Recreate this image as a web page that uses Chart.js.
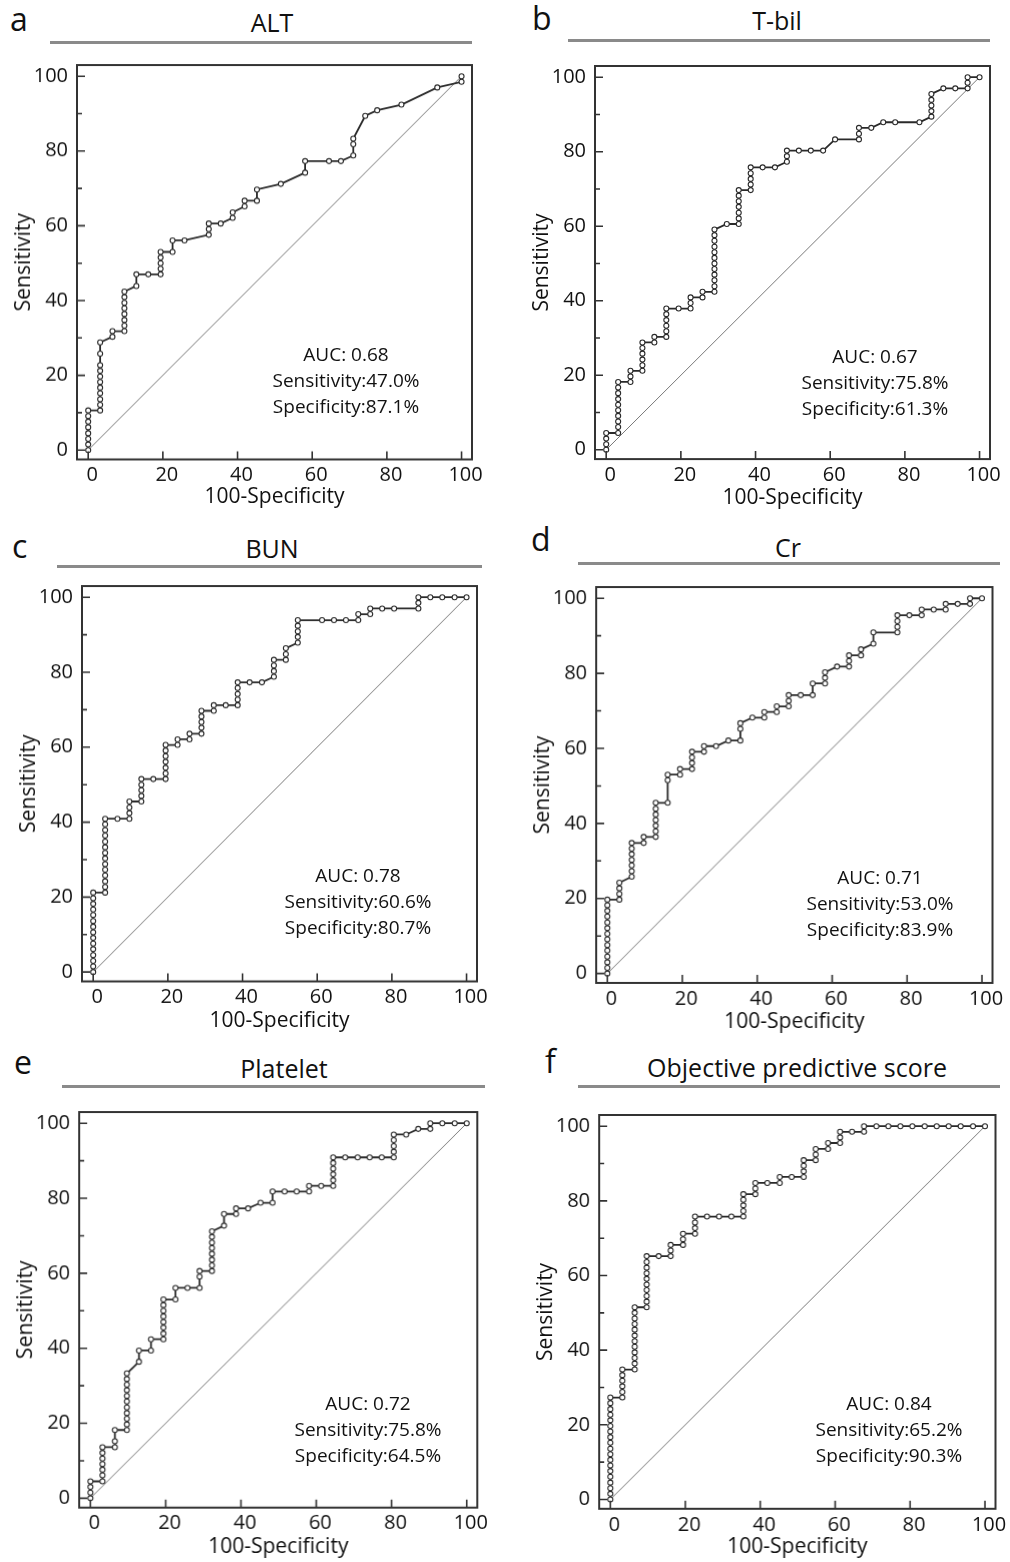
<!DOCTYPE html>
<html>
<head>
<meta charset="utf-8">
<script src="https://cdn.jsdelivr.net/npm/chart.js@4.4.0/dist/chart.umd.min.js"></script>
<style>
  body { margin: 0; background: #fff; font-family: "Open Sans", sans-serif; color: #111; }
  #page { position: relative; width: 1010px; height: 1562px; overflow: hidden; }
  .letter { position: absolute; font-size: 32px; line-height: 32px; transform: translateY(-50%); }
  .title { position: absolute; font-size: 25px; line-height: 28px; transform: translate(-50%, -50%); white-space: nowrap; }
  .rule { position: absolute; height: 3px; background: #8a8a8a; }
  .wrap { position: absolute; }
  .auc { position: absolute; font-size: 19px; line-height: 26px; text-align: center; transform: translate(-50%, -50%); white-space: nowrap; }
</style>
</head>
<body>
<div id="page">
  <div class="letter" style="left:10px;top:19px">a</div>
  <div class="title" style="left:272px;top:22px">ALT</div>
  <div class="rule" style="left:50px;top:41px;width:422px"></div>
  <div class="wrap"><canvas id="chart-a"></canvas></div>
  <div class="auc" style="left:346px;top:380px">AUC: 0.68<br>Sensitivity:47.0%<br>Specificity:87.1%</div>

  <div class="letter" style="left:532px;top:18px">b</div>
  <div class="title" style="left:777px;top:20px">T-bil</div>
  <div class="rule" style="left:568px;top:39px;width:422px"></div>
  <div class="wrap"><canvas id="chart-b"></canvas></div>
  <div class="auc" style="left:875px;top:382px">AUC: 0.67<br>Sensitivity:75.8%<br>Specificity:61.3%</div>

  <div class="letter" style="left:12px;top:546px">c</div>
  <div class="title" style="left:272px;top:548px">BUN</div>
  <div class="rule" style="left:57px;top:565px;width:425px"></div>
  <div class="wrap"><canvas id="chart-c"></canvas></div>
  <div class="auc" style="left:358px;top:901px">AUC: 0.78<br>Sensitivity:60.6%<br>Specificity:80.7%</div>

  <div class="letter" style="left:531px;top:539px">d</div>
  <div class="title" style="left:788px;top:547px">Cr</div>
  <div class="rule" style="left:578px;top:562px;width:422px"></div>
  <div class="wrap"><canvas id="chart-d"></canvas></div>
  <div class="auc" style="left:880px;top:903px">AUC: 0.71<br>Sensitivity:53.0%<br>Specificity:83.9%</div>

  <div class="letter" style="left:14px;top:1062px">e</div>
  <div class="title" style="left:284px;top:1068px">Platelet</div>
  <div class="rule" style="left:62px;top:1085px;width:423px"></div>
  <div class="wrap"><canvas id="chart-e"></canvas></div>
  <div class="auc" style="left:368px;top:1429px">AUC: 0.72<br>Sensitivity:75.8%<br>Specificity:64.5%</div>

  <div class="letter" style="left:545px;top:1061px">f</div>
  <div class="title" style="left:797px;top:1067px">Objective predictive score</div>
  <div class="rule" style="left:578px;top:1085px;width:422px"></div>
  <div class="wrap"><canvas id="chart-f"></canvas></div>
  <div class="auc" style="left:889px;top:1429px">AUC: 0.84<br>Sensitivity:65.2%<br>Specificity:90.3%</div>
</div>

<script>
  // axis ticks
  const xTicks = [0, 20, 40, 60, 80, 100];
  const yTicks = [0, 20, 40, 60, 80, 100];
  const yMinorTicks = [10, 30, 50, 70, 90];
  const diagonal = [0, 100];

  // a: ALT  (100-Specificity, Sensitivity)
  const altX = [0, 0, 0, 0, 0, 0, 0, 0,
    3.2, 3.2, 3.2, 3.2, 3.2, 3.2, 3.2, 3.2, 3.2, 3.2, 3.2,
    6.5, 6.5,
    9.7, 9.7, 9.7, 9.7, 9.7, 9.7, 9.7, 9.7,
    12.9, 12.9, 16.1,
    19.4, 19.4, 19.4, 19.4, 19.4,
    22.6, 22.6, 25.8,
    32.3, 32.3, 32.3, 35.5,
    38.7, 38.7, 41.9, 41.9, 45.2, 45.2, 51.6,
    58.1, 58.1, 64.5, 67.7,
    71.0, 71.0, 71.0, 74.2, 77.4, 83.9, 93.5, 100, 100];
  const altY = [0, 1.5, 3.0, 4.5, 6.1, 7.6, 9.1, 10.6,
    10.6, 12.1, 13.6, 15.2, 16.7, 18.2, 19.7, 21.2, 22.7, 25.8, 28.8,
    30.3, 31.8,
    31.8, 33.3, 34.8, 36.4, 37.9, 39.4, 40.9, 42.4,
    43.9, 47.0, 47.0,
    47.0, 48.5, 50.0, 51.5, 53.0,
    53.0, 56.1, 56.1,
    57.6, 59.1, 60.6, 60.6,
    62.1, 63.6, 65.2, 66.7, 66.7, 69.7, 71.2,
    74.2, 77.3, 77.3, 77.3,
    78.8, 81.8, 83.3, 89.4, 90.9, 92.4, 97.0, 98.5, 100];

  // b: T-bil
  const tbilX = [0, 0, 0, 0,
    3.2, 3.2, 3.2, 3.2, 3.2, 3.2, 3.2, 3.2, 3.2, 3.2,
    6.5, 6.5, 6.5,
    9.7, 9.7, 9.7, 9.7, 9.7, 9.7,
    12.9, 12.9,
    16.1, 16.1, 16.1, 16.1, 16.1, 16.1,
    19.4, 22.6, 22.6, 22.6, 25.8, 25.8,
    29.0, 29.0, 29.0, 29.0, 29.0, 29.0, 29.0, 29.0, 29.0, 29.0, 29.0, 29.0,
    32.3,
    35.5, 35.5, 35.5, 35.5, 35.5, 35.5, 35.5,
    38.7, 38.7, 38.7, 38.7, 38.7,
    41.9, 45.2, 48.4, 48.4, 48.4,
    51.6, 54.8, 58.1, 61.3,
    67.7, 67.7, 67.7, 71.0, 74.2, 77.4, 83.9,
    87.1, 87.1, 87.1, 87.1, 87.1,
    90.3, 93.5, 96.8, 96.8, 96.8, 100];
  const tbilY = [0, 1.5, 3.0, 4.5,
    4.5, 6.1, 7.6, 9.1, 10.6, 12.1, 13.6, 15.2, 16.7, 18.2,
    18.2, 19.7, 21.2,
    21.2, 22.7, 24.2, 25.8, 27.3, 28.8,
    28.8, 30.3,
    30.3, 31.8, 33.3, 34.8, 36.4, 37.9,
    37.9, 37.9, 39.4, 40.9, 40.9, 42.4,
    42.4, 43.9, 45.5, 47.0, 48.5, 50.0, 51.5, 53.0, 54.5, 56.1, 57.6, 59.1,
    60.6,
    60.6, 62.1, 63.6, 65.2, 66.7, 68.2, 69.7,
    69.7, 71.2, 72.7, 74.2, 75.8,
    75.8, 75.8, 77.3, 78.8, 80.3,
    80.3, 80.3, 80.3, 83.3,
    83.3, 84.8, 86.4, 86.4, 87.9, 87.9, 87.9,
    89.4, 90.9, 92.4, 93.9, 95.5,
    97.0, 97.0, 97.0, 98.5, 100, 100];

  // c: BUN
  const bunX = [0, 0, 0, 0, 0, 0, 0, 0, 0, 0, 0, 0, 0, 0, 0,
    3.2, 3.2, 3.2, 3.2, 3.2, 3.2, 3.2, 3.2, 3.2, 3.2, 3.2, 3.2, 3.2, 3.2,
    6.5, 9.7, 9.7, 9.7, 9.7,
    12.9, 12.9, 12.9, 12.9, 12.9, 16.1,
    19.4, 19.4, 19.4, 19.4, 19.4, 19.4, 19.4,
    22.6, 22.6, 25.8, 25.8,
    29.0, 29.0, 29.0, 29.0, 29.0,
    32.3, 32.3, 35.5,
    38.7, 38.7, 38.7, 38.7, 38.7,
    41.9, 45.2, 48.4, 48.4, 48.4, 48.4,
    51.6, 51.6, 51.6,
    54.8, 54.8, 54.8, 54.8, 54.8,
    61.3, 64.5, 67.7, 71.0, 71.0, 74.2, 74.2, 77.4, 80.6,
    87.1, 87.1, 87.1, 90.3, 93.5, 96.8, 100];
  const bunY = [0, 1.5, 3.0, 4.5, 6.1, 7.6, 9.1, 10.6, 12.1, 13.6, 15.2, 16.7, 18.2, 19.7, 21.2,
    21.2, 22.7, 24.2, 25.8, 27.3, 28.8, 30.3, 31.8, 33.3, 34.8, 36.4, 37.9, 39.4, 40.9,
    40.9, 40.9, 42.4, 43.9, 45.5,
    45.5, 47.0, 48.5, 50.0, 51.5, 51.5,
    51.5, 53.0, 54.5, 56.1, 57.6, 59.1, 60.6,
    60.6, 62.1, 62.1, 63.6,
    63.6, 65.2, 66.7, 68.2, 69.7,
    69.7, 71.2, 71.2,
    71.2, 72.7, 74.2, 75.8, 77.3,
    77.3, 77.3, 78.8, 80.3, 81.8, 83.3,
    83.3, 84.8, 86.4,
    87.9, 89.4, 90.9, 92.4, 93.9,
    93.9, 93.9, 93.9, 93.9, 95.5, 95.5, 97.0, 97.0, 97.0,
    97.0, 98.5, 100, 100, 100, 100, 100];

  // d: Cr
  const crX = [0, 0, 0, 0, 0, 0, 0, 0, 0, 0, 0, 0, 0, 0,
    3.2, 3.2, 3.2, 3.2,
    6.5, 6.5, 6.5, 6.5, 6.5, 6.5, 6.5,
    9.7, 9.7,
    12.9, 12.9, 12.9, 12.9, 12.9, 12.9, 12.9,
    16.1, 16.1, 16.1, 19.4, 19.4,
    22.6, 22.6, 22.6, 22.6, 25.8, 25.8,
    29.0, 32.3, 35.5, 35.5, 35.5, 38.7,
    41.9, 41.9, 45.2, 45.2, 48.4, 48.4, 48.4,
    51.6, 54.8, 54.8, 58.1, 58.1, 58.1, 61.3,
    64.5, 64.5, 64.5, 67.7, 67.7, 71.0, 71.0,
    77.4, 77.4, 77.4, 77.4, 80.6, 83.9, 83.9,
    87.1, 90.3, 90.3, 93.5, 96.8, 96.8, 100];
  const crY = [0, 1.5, 3.0, 4.5, 6.1, 7.6, 9.1, 10.6, 12.1, 13.6, 15.2, 16.7, 18.2, 19.7,
    19.7, 21.2, 22.7, 24.2,
    25.8, 27.3, 28.8, 30.3, 31.8, 33.3, 34.8,
    34.8, 36.4,
    36.4, 37.9, 39.4, 40.9, 42.4, 43.9, 45.5,
    45.5, 51.5, 53.0, 53.0, 54.5,
    54.5, 56.1, 57.6, 59.1, 59.1, 60.6,
    60.6, 62.1, 62.1, 65.2, 66.7, 68.2,
    68.2, 69.7, 69.7, 71.2, 71.2, 72.7, 74.2,
    74.2, 74.2, 77.3, 77.3, 78.8, 80.3, 81.8,
    81.8, 83.3, 84.8, 84.8, 86.4, 87.9, 90.9,
    90.9, 92.4, 93.9, 95.5, 95.5, 95.5, 97.0,
    97.0, 97.0, 98.5, 98.5, 98.5, 100, 100];

  // e: Platelet
  const pltX = [0, 0, 0, 0,
    3.2, 3.2, 3.2, 3.2, 3.2, 3.2, 3.2,
    6.5, 6.5, 6.5,
    9.7, 9.7, 9.7, 9.7, 9.7, 9.7, 9.7, 9.7, 9.7, 9.7, 9.7,
    12.9, 12.9, 16.1, 16.1,
    19.4, 19.4, 19.4, 19.4, 19.4, 19.4, 19.4, 19.4,
    22.6, 22.6, 25.8, 29.0, 29.0, 29.0,
    32.3, 32.3, 32.3, 32.3, 32.3, 32.3, 32.3, 32.3,
    35.5, 35.5, 38.7, 38.7, 41.9, 45.2, 48.4, 48.4,
    51.6, 54.8, 58.1, 58.1, 61.3,
    64.5, 64.5, 64.5, 64.5, 64.5, 64.5,
    67.7, 71.0, 74.2, 77.4,
    80.6, 80.6, 80.6, 80.6, 80.6,
    83.9, 87.1, 90.3, 90.3, 93.5, 96.8, 100];
  const pltY = [0, 1.5, 3.0, 4.5,
    4.5, 6.1, 7.6, 9.1, 10.6, 12.1, 13.6,
    13.6, 15.2, 18.2,
    18.2, 19.7, 21.2, 22.7, 24.2, 25.8, 27.3, 28.8, 30.3, 31.8, 33.3,
    36.4, 39.4, 39.4, 42.4,
    42.4, 43.9, 45.5, 47.0, 48.5, 50.0, 51.5, 53.0,
    53.0, 56.1, 56.1, 56.1, 59.1, 60.6,
    60.6, 62.1, 63.6, 65.2, 66.7, 68.2, 69.7, 71.2,
    72.7, 75.8, 75.8, 77.3, 77.3, 78.8, 78.8, 81.8,
    81.8, 81.8, 81.8, 83.3, 83.3,
    83.3, 84.8, 86.4, 87.9, 89.4, 90.9,
    90.9, 90.9, 90.9, 90.9,
    90.9, 92.4, 93.9, 95.5, 97.0,
    97.0, 98.5, 98.5, 100, 100, 100, 100];

  // f: Objective predictive score
  const opsX = [0, 0, 0, 0, 0, 0, 0, 0, 0, 0, 0, 0, 0, 0, 0, 0, 0, 0, 0,
    3.2, 3.2, 3.2, 3.2, 3.2, 3.2,
    6.5, 6.5, 6.5, 6.5, 6.5, 6.5, 6.5, 6.5, 6.5, 6.5, 6.5, 6.5,
    9.7, 9.7, 9.7, 9.7, 9.7, 9.7, 9.7, 9.7, 9.7, 9.7,
    12.9, 16.1, 16.1, 16.1, 19.4, 19.4, 19.4,
    22.6, 22.6, 22.6, 22.6, 25.8, 29.0, 32.3,
    35.5, 35.5, 35.5, 35.5, 35.5,
    38.7, 38.7, 38.7, 41.9, 45.2, 45.2, 48.4,
    51.6, 51.6, 51.6, 51.6, 54.8, 54.8, 54.8, 58.1, 58.1,
    61.3, 61.3, 61.3, 64.5, 67.7, 67.7,
    71.0, 74.2, 77.4, 80.6, 83.9, 87.1, 90.3, 93.5, 96.8, 100];
  const opsY = [0, 1.5, 3.0, 4.5, 6.1, 7.6, 9.1, 10.6, 12.1, 13.6, 15.2, 16.7, 18.2, 19.7, 21.2, 22.7, 24.2, 25.8, 27.3,
    27.3, 28.8, 30.3, 31.8, 33.3, 34.8,
    34.8, 36.4, 37.9, 39.4, 40.9, 42.4, 43.9, 45.5, 47.0, 48.5, 50.0, 51.5,
    51.5, 53.0, 54.5, 56.1, 57.6, 59.1, 60.6, 62.1, 63.6, 65.2,
    65.2, 65.2, 66.7, 68.2, 68.2, 69.7, 71.2,
    71.2, 72.7, 74.2, 75.8, 75.8, 75.8, 75.8,
    75.8, 77.3, 78.8, 80.3, 81.8,
    81.8, 83.3, 84.8, 84.8, 84.8, 86.4, 86.4,
    86.4, 87.9, 89.4, 90.9, 90.9, 92.4, 93.9, 93.9, 95.5,
    95.5, 97.0, 98.5, 98.5, 98.5, 100,
    100, 100, 100, 100, 100, 100, 100, 100, 100, 100];

  Chart.defaults.font.family = '"Open Sans", sans-serif';
  Chart.defaults.color = '#111';

  const TICK_SIZE = 20;
  const AXIS_TITLE_SIZE = 21;
  const RIGHT_PAD = 24;

  const frameTicks = {
    id: 'frameTicks',
    afterDraw(chart) {
      const { ctx, chartArea: a, scales: { x, y } } = chart;
      ctx.save();
      ctx.strokeStyle = '#333';
      ctx.lineWidth = 2;
      ctx.strokeRect(a.left, a.top, a.right - a.left, a.bottom - a.top);
      ctx.lineWidth = 1.6;
      ctx.beginPath();
      xTicks.forEach(v => {
        const p = x.getPixelForValue(v);
        ctx.moveTo(p, a.bottom);
        ctx.lineTo(p, a.bottom - 8);
      });
      yTicks.forEach(v => {
        const p = y.getPixelForValue(v);
        ctx.moveTo(a.left, p);
        ctx.lineTo(a.left + 8, p);
      });
      yMinorTicks.forEach(v => {
        const p = y.getPixelForValue(v);
        ctx.moveTo(a.left, p);
        ctx.lineTo(a.left + 5, p);
      });
      ctx.stroke();
      ctx.restore();
    }
  };

  function drawRoc(id, area, xTitleY, xs, ys) {
    const canvas = document.getElementById(id);
    const wrap = canvas.parentNode;
    const titleOffset = 4 + AXIS_TITLE_SIZE * 0.6;
    const left = area.l - 70, top = area.t - 4;
    const width = area.r + RIGHT_PAD - left, height = xTitleY + titleOffset - top;
    wrap.style.left = left + 'px';
    wrap.style.top = top + 'px';
    wrap.style.width = width + 'px';
    wrap.style.height = height + 'px';
    const xAxisH = top + height - area.b;

    new Chart(canvas, {
      type: 'line',
      data: {
        datasets: [
          {
            data: xs.map((v, i) => ({ x: v, y: ys[i] })),
            borderColor: '#2a2a2a',
            borderWidth: 1.8,
            pointRadius: 2.5,
            pointBorderWidth: 1.1,
            pointBorderColor: '#2a2a2a',
            pointBackgroundColor: '#ffffff',
            tension: 0
          },
          {
            data: diagonal.map(v => ({ x: v, y: v })),
            borderColor: '#6a6a6a',
            borderWidth: 0.9,
            pointRadius: 0
          }
        ]
      },
      options: {
        responsive: true,
        maintainAspectRatio: false,
        animation: false,
        layout: { autoPadding: false, padding: { top: 4, right: RIGHT_PAD, left: 0, bottom: 0 } },
        plugins: { legend: { display: false }, tooltip: { enabled: false } },
        scales: {
          x: {
            type: 'linear', min: -3, max: 102.8,
            afterBuildTicks: s => { s.ticks = xTicks.map(v => ({ value: v })); },
            afterFit: s => { s.height = xAxisH; s.paddingLeft = 0; s.paddingRight = 0; },
            grid: { display: false, drawTicks: false },
            border: { display: false },
            ticks: { font: { size: TICK_SIZE }, padding: 4, labelOffset: 4, maxRotation: 0, autoSkip: false },
            title: { display: true, text: '100-Specificity', font: { size: AXIS_TITLE_SIZE } }
          },
          y: {
            type: 'linear', min: -2.5, max: 103,
            afterBuildTicks: s => { s.ticks = yTicks.map(v => ({ value: v })); },
            afterFit: s => { s.width = 70; s.paddingTop = 0; s.paddingBottom = 0; },
            grid: { display: false, drawTicks: false },
            border: { display: false },
            ticks: { font: { size: TICK_SIZE }, padding: 9, autoSkip: false },
            title: { display: true, text: 'Sensitivity', font: { size: AXIS_TITLE_SIZE } }
          }
        }
      },
      plugins: [frameTicks]
    });
  }

  drawRoc('chart-a', { l: 77, t: 65, r: 472, b: 458.5 }, 496, altX, altY);
  drawRoc('chart-b', { l: 594.5, t: 65.5, r: 989.5, b: 458.6 }, 498, tbilX, tbilY);
  drawRoc('chart-c', { l: 82, t: 586, r: 477, b: 980.5 }, 1020, bunX, bunY);
  drawRoc('chart-d', { l: 596, t: 587, r: 991.5, b: 982 }, 1021, crX, crY);
  drawRoc('chart-e', { l: 79.3, t: 1112, r: 476.6, b: 1506.7 }, 1546, pltX, pltY);
  drawRoc('chart-f', { l: 599, t: 1114.5, r: 994.5, b: 1508.3 }, 1547, opsX, opsY);
</script>
</body>
</html>
